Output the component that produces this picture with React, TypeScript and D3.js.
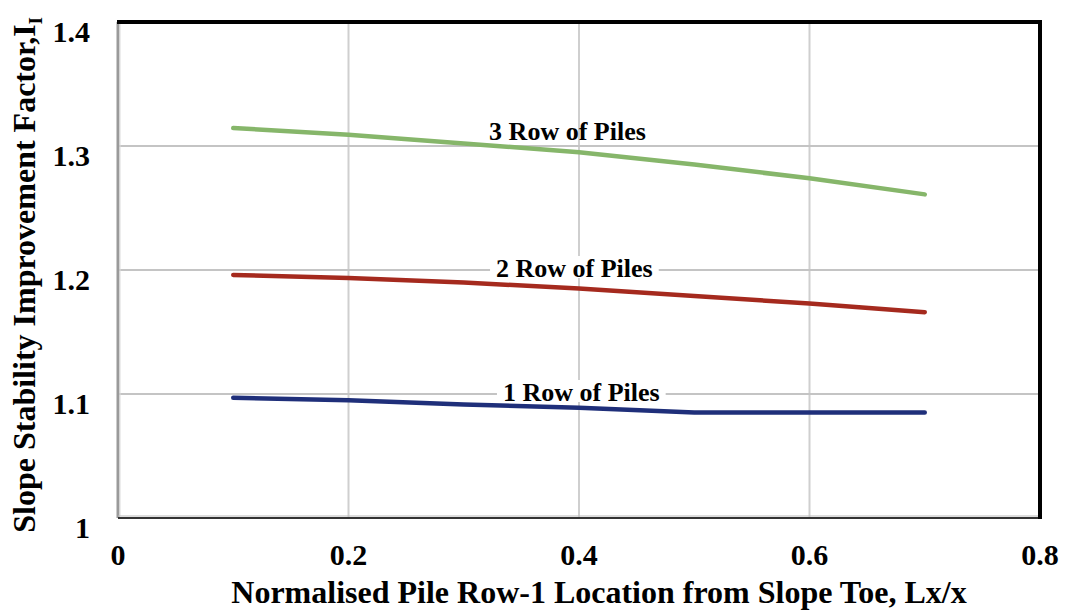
import * as d3 from 'd3'
import { useEffect, useRef } from 'react'

const xPositions = [0.1, 0.2, 0.3, 0.4, 0.5, 0.6, 0.7]
const oneRow = [1.097, 1.095, 1.0915, 1.089, 1.085, 1.085, 1.085]
const twoRow = [1.196, 1.1935, 1.19, 1.185, 1.179, 1.173, 1.166]
const threeRow = [1.3145, 1.309, 1.302, 1.295, 1.285, 1.274, 1.261]
const seriesNames = ['1 Row of Piles', '2 Row of Piles', '3 Row of Piles']
const xTicks = [0, 0.2, 0.4, 0.6, 0.8]
const yTicks = [1, 1.1, 1.2, 1.3, 1.4]

export default function App() {
    const svgRef = useRef<SVGSVGElement>(null)

    useEffect(() => {
        makeChart()
    }, [])

    function makeChart() {
        const width = 1065
        const height = 612
        const left = 118
        const right = 1040
        const top = 22
        const bottom = 518
        const font = '"Liberation Serif", "Times New Roman", serif'

        const svg = d3.select(svgRef.current).attr('width', width).attr('height', height)
        svg.selectAll('*').remove()

        const xScale = d3.scaleLinear().domain([0, 0.8]).range([left, right])
        const yScale = d3.scaleLinear().domain([1, 1.4]).range([bottom, top])

        // grid
        const grid = svg.append('g')
        grid.selectAll('line.v')
            .data(xTicks.slice(1, -1))
            .enter()
            .append('line')
            .attr('x1', d => xScale(d))
            .attr('x2', d => xScale(d))
            .attr('y1', top)
            .attr('y2', bottom)
            .attr('stroke', '#cfcfcf')
            .attr('stroke-width', 2)
        grid.selectAll('line.h')
            .data(yTicks.slice(1, -1))
            .enter()
            .append('line')
            .attr('x1', left)
            .attr('x2', right)
            .attr('y1', d => yScale(d))
            .attr('y2', d => yScale(d))
            .attr('stroke', '#c4c4c4')
            .attr('stroke-width', 2)

        // frame
        svg.append('line').attr('x1', left).attr('x2', left).attr('y1', top).attr('y2', bottom)
            .attr('stroke', '#9a9a9a').attr('stroke-width', 3)
        svg.append('line').attr('x1', left + 2).attr('x2', left + 2).attr('y1', top + 2).attr('y2', bottom - 2)
            .attr('stroke', '#dcdcdc').attr('stroke-width', 1)
        svg.append('line').attr('x1', left).attr('x2', right).attr('y1', bottom).attr('y2', bottom)
            .attr('stroke', '#333').attr('stroke-width', 2)
        svg.append('line').attr('x1', left).attr('x2', right).attr('y1', bottom - 2).attr('y2', bottom - 2)
            .attr('stroke', '#bbb').attr('stroke-width', 1)
        svg.append('line').attr('x1', left - 1).attr('x2', right + 2).attr('y1', top).attr('y2', top)
            .attr('stroke', '#000').attr('stroke-width', 4)
        svg.append('line').attr('x1', right).attr('x2', right).attr('y1', top - 2).attr('y2', bottom + 1)
            .attr('stroke', '#000').attr('stroke-width', 4)

        // series labels (white boxes hide the gridlines behind them)
        const labelX = [0.402, 0.396, 0.39]
        const labelVal = [1.1, 1.2, 1.3]
        const labelDy = [7, 7, -6]
        const labels = svg.append('g')
        const labelTexts: any[] = []
        seriesNames.forEach((name, i) => {
            const g = labels.append('g')
            const t = g.append('text')
                .attr('x', xScale(labelX[i]))
                .attr('y', yScale(labelVal[i]) + labelDy[i])
                .attr('text-anchor', 'middle')
                .attr('font-family', font)
                .attr('font-weight', 'bold')
                .attr('font-size', 26)
                .text(name)
            labelTexts.push(t)
            if (i < 2) {
                const bb = (t.node() as SVGTextElement).getBBox()
                const base = yScale(labelVal[i]) + labelDy[i]
                g.insert('rect', 'text')
                    .attr('x', bb.x - 6)
                    .attr('y', base - 21)
                    .attr('width', bb.width + 12)
                    .attr('height', 22)
                    .attr('fill', 'white')
            }
        })

        // series lines
        const line = d3.line<number>()
            .x((_, i) => xScale(xPositions[i]))
            .y(d => yScale(d))

        const series = [
            { values: oneRow, color: '#1f2f7a' },
            { values: twoRow, color: '#a52a1e' },
            { values: threeRow, color: '#86b66a' },
        ]
        svg.append('g').selectAll('path')
            .data(series)
            .enter()
            .append('path')
            .attr('d', d => line(d.values))
            .attr('fill', 'none')
            .attr('stroke', d => d.color)
            .attr('stroke-width', 4.5)
            .attr('stroke-linecap', 'round')

        // keep label text on top of lines
        labelTexts.forEach(t => svg.append(() => t.node()))

        // tick labels
        svg.append('g').selectAll('text')
            .data(yTicks)
            .enter()
            .append('text')
            .attr('x', 90)
            .attr('y', d => yScale(d) + 20)
            .attr('text-anchor', 'end')
            .attr('font-family', font)
            .attr('font-weight', 'bold')
            .attr('font-size', 30)
            .text(d => d3.format('')(d))

        svg.append('g').selectAll('text')
            .data(xTicks)
            .enter()
            .append('text')
            .attr('x', d => xScale(d))
            .attr('y', 565)
            .attr('text-anchor', 'middle')
            .attr('font-family', font)
            .attr('font-weight', 'bold')
            .attr('font-size', 30)
            .text(d => d3.format('')(d))

        // axis titles
        svg.append('text')
            .attr('x', 599)
            .attr('y', 603)
            .attr('text-anchor', 'middle')
            .attr('font-family', font)
            .attr('font-weight', 'bold')
            .attr('font-size', 32)
            .text('Normalised Pile Row-1 Location from Slope Toe, Lx/x')

        const yTitle = svg.append('text')
            .attr('transform', `translate(35, 275) rotate(-90)`)
            .attr('text-anchor', 'middle')
            .attr('font-family', font)
            .attr('font-weight', 'bold')
            .attr('font-size', 32)
        yTitle.append('tspan').text('Slope Stability Improvement Factor,I')
        yTitle.append('tspan').attr('font-size', 18).attr('dy', 7).text('I')
    }

    return (
        <svg ref={svgRef} style={{ position: 'absolute', left: 0, top: 0 }}></svg>
    )
}
